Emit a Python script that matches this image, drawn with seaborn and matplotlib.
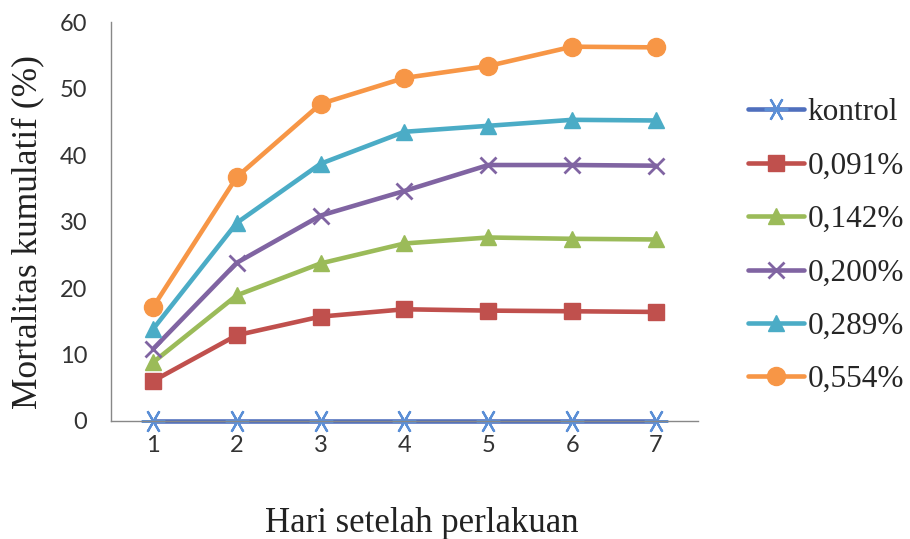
import matplotlib
matplotlib.use("Agg")
import matplotlib.pyplot as plt
import seaborn as sns
import pandas as pd

days = [1, 2, 3, 4, 5, 6, 7]
kontrol = [0, 0, 0, 0, 0, 0, 0]
c_091 = [6.0, 12.9, 15.7, 16.8, 16.6, 16.5, 16.4]
c_142 = [8.8, 18.9, 23.7, 26.7, 27.6, 27.4, 27.3]
c_200 = [10.8, 23.8, 30.9, 34.6, 38.5, 38.5, 38.4]
c_289 = [13.8, 29.8, 38.7, 43.5, 44.4, 45.3, 45.2]
c_554 = [17.1, 36.7, 47.7, 51.6, 53.4, 56.3, 56.2]

labels = ["kontrol", "0,091%", "0,142%", "0,200%", "0,289%", "0,554%"]
series = [kontrol, c_091, c_142, c_200, c_289, c_554]

colors = ["#4F6FBD", "#C0504D", "#9BBB59", "#8064A2", "#4BACC6", "#F79646"]
markers = [(6, 2, 90), "s", "^", "x", "^", "o"]
msizes = [17, 12, 12, 11, 12, 13]
mew = [1.6, 1, 1, 2, 1, 1]

df = pd.DataFrame({
    "hari": days * len(labels),
    "mortalitas": [v for s in series for v in s],
    "perlakuan": [lab for lab in labels for _ in days],
})

sns.set_style("white")
fig = plt.figure(figsize=(9.1, 5.39), dpi=100)
ax = fig.add_axes([0.122, 0.219, 0.645, 0.740])

sns.lineplot(data=df, x="hari", y="mortalitas", hue="perlakuan",
             hue_order=labels, palette=colors, linewidth=3.3,
             legend=False, ax=ax)

for line, m, ms, c, w in zip(ax.lines, markers, msizes, colors, mew):
    line.set_marker(m)
    line.set_markersize(ms)
    line.set_markerfacecolor(c)
    line.set_markeredgecolor(c)
    line.set_markeredgewidth(w)
    line.set_clip_on(False)
ax.lines[0].set_markeredgecolor("#5B8FD6")

ax.set_xlim(0.5, 7.5)
ax.set_ylim(0, 60)
ax.set_xticks(days)
ax.set_yticks(range(0, 61, 10))

tick_font = ["Lato", "DejaVu Sans"]
for t in ax.get_xticklabels() + ax.get_yticklabels():
    t.set_family(tick_font)
    t.set_fontsize(17)
    t.set_color("#333333")

ax.tick_params(axis="y", direction="out", length=6, width=1, color="#888888", pad=11)
ax.tick_params(axis="x", length=0, pad=10)

for side in ["top", "right"]:
    ax.spines[side].set_visible(False)
for side in ["left", "bottom"]:
    ax.spines[side].set_color("#888888")
    ax.spines[side].set_linewidth(1)

serif = ["Liberation Serif", "DejaVu Serif"]
ax.set_xlabel("Hari setelah perlakuan", fontsize=25, family=serif, color="#222222")
ax.set_ylabel("Mortalitas kumulatif (%)", fontsize=25.5, family=serif, color="#222222")
ax.xaxis.set_label_coords(0.53, -0.215)
ax.yaxis.set_label_coords(-0.113, 0.474)

handles = [plt.Line2D([], [], color=c, marker=m, markersize=ms, linewidth=3.3,
                      markerfacecolor=c, markeredgecolor=c, markeredgewidth=w)
           for c, m, ms, w in zip(colors, markers, msizes, mew)]
handles[0].set_markeredgecolor("#5B8FD6")
leg = fig.legend(handles, labels, loc="center left", bbox_to_anchor=(0.822, 0.543),
                 frameon=False, handlelength=1.8, handletextpad=0.1, borderpad=0,
                 borderaxespad=0, labelspacing=0.78,
                 prop={"family": "Liberation Serif", "size": 22.5})

fig.savefig("out.png", dpi=100)
